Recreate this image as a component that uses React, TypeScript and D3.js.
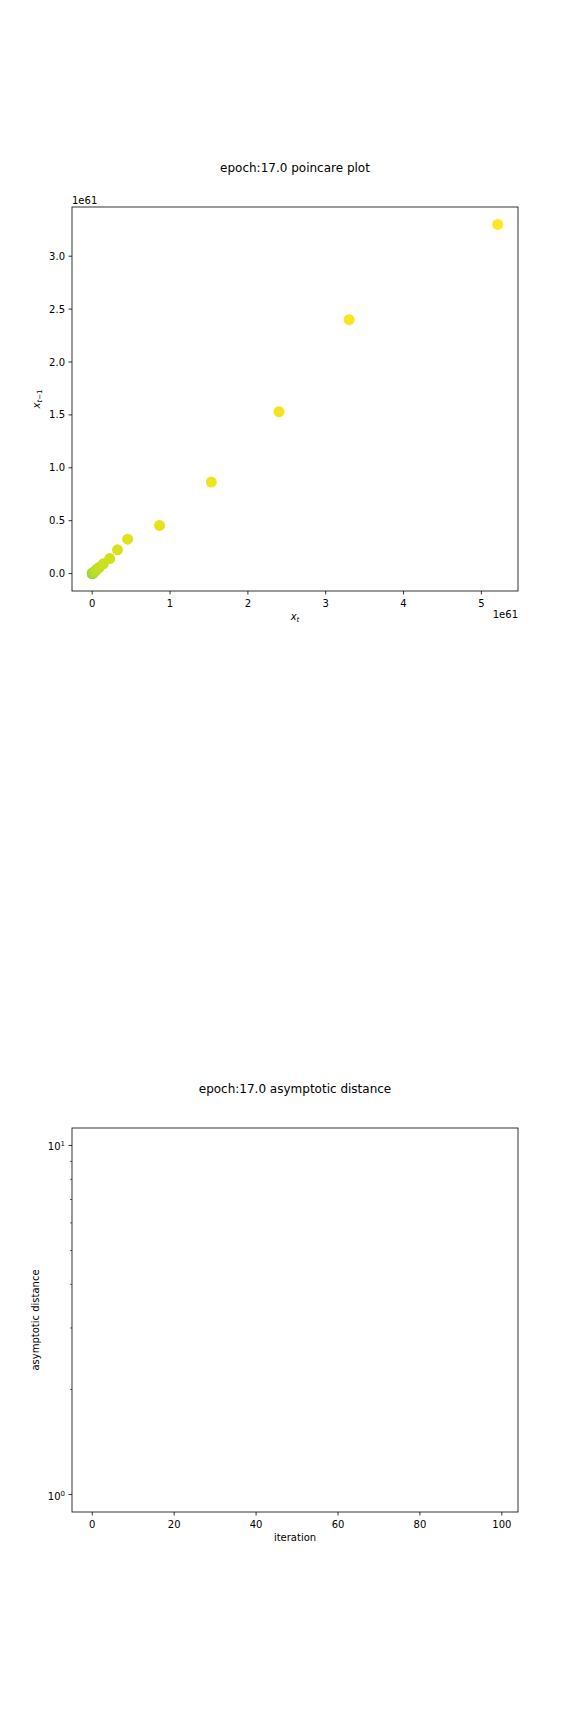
import React, { useEffect } from 'react';
import * as d3 from 'd3';

// ---- data (values in units of 1e61) ----
const iterIdx = [80, 81, 82, 83, 84, 85, 86, 87, 88, 89, 90, 91, 92, 93, 94, 95, 96, 97, 98, 99];
const xT = [0.0008, 0.0015, 0.0025, 0.004, 0.007, 0.011, 0.017, 0.026, 0.04, 0.06, 0.092, 0.142, 0.225, 0.325, 0.455, 0.865, 1.53, 2.4, 3.3, 5.21];
const xPrev = [0.0005, 0.0008, 0.0015, 0.0025, 0.004, 0.007, 0.011, 0.017, 0.026, 0.04, 0.06, 0.092, 0.142, 0.225, 0.325, 0.455, 0.865, 1.53, 2.4, 3.3];
const xTicks1 = [0, 1, 2, 3, 4, 5];
const yTicks1 = [0.0, 0.5, 1.0, 1.5, 2.0, 2.5, 3.0];
const xTicks2 = [0, 20, 40, 60, 80, 100];
const yMajor2 = [1, 10];
const yMinor2 = [2, 3, 4, 5, 6, 7, 8, 9];
const iterDomain = [0, 99];

const FONT = 'DejaVu Sans, sans-serif';
const L = 72, R = 518;
const T1 = 207, B1 = 591;
const T2 = 1128, B2 = 1512;

function padExtent(v: number[]): [number, number] {
  const [a, b] = d3.extent(v) as [number, number];
  const r = b - a;
  return [a - 0.05 * r, b + 0.05 * r];
}

export default function App() {
  useEffect(() => {
    document.body.style.margin = '0';
  }, []);

  const x1 = d3.scaleLinear().domain(padExtent(xT)).range([L, R]);
  const y1 = d3.scaleLinear().domain(padExtent(xPrev)).range([B1, T1]);
  const color = d3.scaleSequential(d3.interpolateViridis).domain(iterDomain);

  const x2 = d3.scaleLinear().domain([iterDomain[0] - 0.05 * (iterDomain[1] - iterDomain[0]), iterDomain[1] + 0.05 * (iterDomain[1] - iterDomain[0])]).range([L, R]);
  const y2 = d3.scaleLog().domain([Math.pow(10, -0.05), Math.pow(10, 1.05)]).range([B2, T2]);

  const cx1 = (L + R) / 2;

  return (
    <svg width={576} height={1728} style={{ display: 'block', background: '#fff' }} fontFamily={FONT}>
      <rect x={0} y={0} width={576} height={1728} fill="#fff" />

      {/* ===== Plot 1 ===== */}
      <text x={cx1} y={172} fontSize={12} textAnchor="middle" fill="#000">epoch:17.0 poincare plot</text>
      <text x={L} y={204} fontSize={10} fill="#000">1e61</text>

      {xT.map((v, i) => (
        <circle key={i} cx={x1(v)} cy={y1(xPrev[i])} r={5.5} fill={color(iterIdx[i])} />
      ))}

      <rect x={L} y={T1} width={R - L} height={B1 - T1} fill="none" stroke="#000" strokeWidth={0.8} />

      {xTicks1.map(t => (
        <g key={'xt1' + t}>
          <line x1={x1(t)} x2={x1(t)} y1={B1} y2={B1 + 3.5} stroke="#000" strokeWidth={0.8} />
          <text x={x1(t)} y={B1 + 16} fontSize={10} textAnchor="middle" fill="#000">{d3.format('d')(t)}</text>
        </g>
      ))}
      {yTicks1.map(t => (
        <g key={'yt1' + t}>
          <line x1={L - 3.5} x2={L} y1={y1(t)} y2={y1(t)} stroke="#000" strokeWidth={0.8} />
          <text x={L - 7} y={y1(t) + 3.6} fontSize={10} textAnchor="end" fill="#000">{d3.format('.1f')(t)}</text>
        </g>
      ))}
      <text x={cx1} y={620} fontSize={10} textAnchor="middle" fill="#000">
        <tspan fontStyle="italic">x</tspan>
        <tspan fontStyle="italic" fontSize={7} dy={2}>t</tspan>
      </text>
      <text x={R} y={618} fontSize={10} textAnchor="end" fill="#000">1e61</text>
      <text transform={`translate(40,${(T1 + B1) / 2}) rotate(-90)`} fontSize={10} textAnchor="middle" fill="#000">
        <tspan fontStyle="italic">x</tspan>
        <tspan fontStyle="italic" fontSize={7} dy={2}>t</tspan>
        <tspan fontSize={7}>−1</tspan>
      </text>

      {/* ===== Plot 2 ===== */}
      <text x={cx1} y={1093} fontSize={12} textAnchor="middle" fill="#000">epoch:17.0 asymptotic distance</text>
      <rect x={L} y={T2} width={R - L} height={B2 - T2} fill="none" stroke="#000" strokeWidth={0.8} />

      {xTicks2.map(t => (
        <g key={'xt2' + t}>
          <line x1={x2(t)} x2={x2(t)} y1={B2} y2={B2 + 3.5} stroke="#000" strokeWidth={0.8} />
          <text x={x2(t)} y={B2 + 16} fontSize={10} textAnchor="middle" fill="#000">{t}</text>
        </g>
      ))}
      {yMajor2.map(t => (
        <g key={'ym2' + t}>
          <line x1={L - 3.5} x2={L} y1={y2(t)} y2={y2(t)} stroke="#000" strokeWidth={0.8} />
          <text x={L - 7} y={y2(t) + 5} fontSize={10} textAnchor="end" fill="#000">
            <tspan>10</tspan>
            <tspan fontSize={7} dy={-4}>{Math.round(Math.log10(t))}</tspan>
          </text>
        </g>
      ))}
      {yMinor2.map(t => (
        <line key={'yn2' + t} x1={L - 2} x2={L} y1={y2(t)} y2={y2(t)} stroke="#000" strokeWidth={0.6} />
      ))}
      <text x={cx1} y={1541} fontSize={10} textAnchor="middle" fill="#000">iteration</text>
      <text transform={`translate(39,${(T2 + B2) / 2}) rotate(-90)`} fontSize={10} textAnchor="middle" fill="#000">asymptotic distance</text>
    </svg>
  );
}
